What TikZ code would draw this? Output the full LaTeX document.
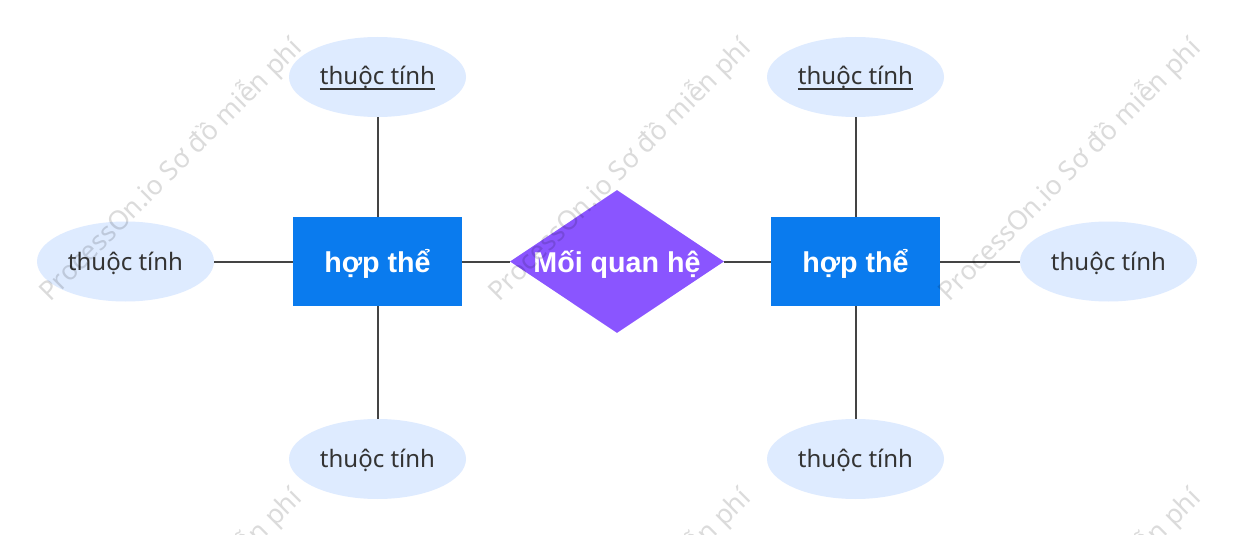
\documentclass[tikz,border=0pt]{standalone}
\usepackage{fontspec}
\setmainfont{Noto Sans}
\newfontfamily\boldfont{Liberation Sans}[BoldFont={Liberation Sans Bold}]
\usetikzlibrary{shapes.geometric}
\definecolor{entityc}{HTML}{0A7BEE}
\definecolor{relc}{HTML}{8A55FF}
\definecolor{attrc}{HTML}{DEEBFF}
\definecolor{txtc}{HTML}{333333}
\definecolor{linec}{HTML}{444444}
\newcommand\keyul[1]{\setbox0\hbox{#1}\rlap{\rule[-4pt]{\wd0}{1.4pt}}\box0}
\tikzset{
  entitybox/.style={rectangle, fill=entityc, minimum width=126.75pt, minimum height=66.75pt, inner sep=0pt},
  relbox/.style={diamond, fill=relc, minimum width=160.5pt, minimum height=107.25pt, inner sep=0pt, aspect=1.5},
  attrbox/.style={ellipse, fill=attrc, minimum width=132.75pt, minimum height=60pt, inner sep=0pt},
  boldlbl/.style={inner sep=0pt, anchor=base, text=white, font=\boldfont\bfseries\fontsize{21.5pt}{24pt}\selectfont},
  attrlbl/.style={inner sep=0pt, anchor=base, text=txtc, font=\fontsize{18pt}{21pt}\selectfont},
  link/.style={draw=linec, line width=1.5pt},
  wm/.style={rotate=45, anchor=base west, inner sep=0pt, text=black, text opacity=0.14,
    font=\fontsize{20pt}{24pt}\selectfont}
}
\begin{document}
\begin{tikzpicture}[x=0.75pt, y=-0.75pt]
\useasboundingbox (0,0) rectangle (1233,535);
\fill[white] (0,0) rectangle (1233,535);
\clip (0,0) rectangle (1233,535);
% entities and relationship
\node[entitybox] (E1) at (377.5,261.5) {};
\node[entitybox] (E2) at (855.5,261.5) {};
\node[relbox] (R) at (617,261.5) {};
\node[boldlbl] (E1t) at (377.5,272) {hợp thể};
\node[boldlbl] (E2t) at (855.5,272) {hợp thể};
\node[boldlbl] (Rt) at (617,272) {Mối quan hệ};
% attributes
\node[attrbox] (A1) at (377.5,77) {};
\node[attrbox] (A2) at (125.5,261.5) {};
\node[attrbox] (A3) at (377.5,459) {};
\node[attrbox] (A4) at (855.5,77) {};
\node[attrbox] (A5) at (1108.5,261.5) {};
\node[attrbox] (A6) at (855.5,459) {};
\node[attrlbl] (A1t) at (377.5,85) {\keyul{thuộc tính}};
\node[attrlbl] (A2t) at (125.5,270) {thuộc tính};
\node[attrlbl] (A3t) at (377.5,467) {thuộc tính};
\node[attrlbl] (A4t) at (855.5,85) {\keyul{thuộc tính}};
\node[attrlbl] (A5t) at (1108.5,270) {thuộc tính};
\node[attrlbl] (A6t) at (855.5,467) {thuộc tính};
% connectors
\draw[link] (E1) -- (A1);
\draw[link] (E1) -- (A2);
\draw[link] (E1) -- (A3);
\draw[link] (E1) -- (R);
\draw[link] (R) -- (E2);
\draw[link] (E2) -- (A4);
\draw[link] (E2) -- (A5);
\draw[link] (E2) -- (A6);
% watermark
\foreach \wx in {50,499,949} {
  \foreach \wy in {303,753} {
    \node[wm] at (\wx,\wy) {ProcessOn.io Sơ đồ miễn phí};
  }
}
\end{tikzpicture}
\end{document}
